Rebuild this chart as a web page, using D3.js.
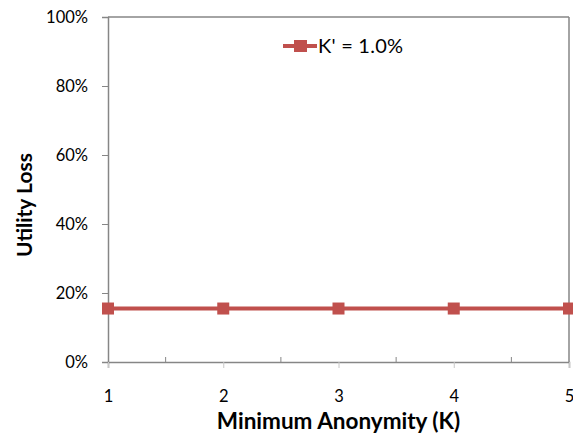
<!DOCTYPE html>
<html>
<head>
<meta charset="utf-8">
<script src="https://cdn.jsdelivr.net/npm/d3@7"></script>
<style>
	body { margin: 0; background: #fff; }
	text { font-family: Lato, "Open Sans", sans-serif; fill: #000; }
</style>
</head>
<body>
<div id="chart"></div>
<script>
// data
const categories = [1, 2, 3, 4, 5]
const utilityLoss = [0.155, 0.155, 0.155, 0.155, 0.155]
const seriesName = "K' = 1.0%"
const yTicks = [0, 0.2, 0.4, 0.6, 0.8, 1.0]

const width = 573, height = 446
const margin = { top: 17, right: 4, bottom: 84, left: 108 }
const w = width - margin.left - margin.right
const h = height - margin.top - margin.bottom
const red = '#C0504D'
const axisGrey = '#868686'

const svg = d3.select('#chart').append('svg')
	.attr('width', width)
	.attr('height', height)

const g = svg.append('g')
	.attr('transform', 'translate(' + margin.left + ',' + margin.top + ')')

const x = d3.scaleLinear().domain([1, 5]).range([0, w])
const y = d3.scaleLinear().domain([0, 1]).range([h, 0])

// plot border (top & right)
g.append('line').attr('x1', 0).attr('x2', w).attr('y1', 0).attr('y2', 0)
	.attr('stroke', axisGrey).attr('stroke-width', 1.5)
g.append('line').attr('x1', w).attr('x2', w).attr('y1', 0).attr('y2', h)
	.attr('stroke', axisGrey).attr('stroke-width', 1.5)

// y axis
const yAxis = g.append('g')
	.call(d3.axisLeft(y).tickValues(yTicks).tickFormat(d3.format('.0%')).tickSize(6).tickPadding(14))
yAxis.select('.domain').attr('stroke', axisGrey).attr('stroke-width', 1.5)
yAxis.selectAll('line').attr('stroke', axisGrey).attr('stroke-width', 1)
yAxis.selectAll('text').attr('font-size', 16.5).attr('font-family', 'Lato')

// x axis
const xAxis = g.append('g')
	.attr('transform', 'translate(0,' + h + ')')
	.call(d3.axisBottom(x).tickValues(categories).tickFormat(d3.format('d')).tickSize(6).tickPadding(22))
xAxis.select('.domain').attr('stroke', axisGrey).attr('stroke-width', 1.5)
xAxis.selectAll('line').attr('stroke', '#c8c8c8').attr('stroke-width', 1)
xAxis.selectAll('text').attr('font-size', 16.5).attr('font-family', 'Lato')

// inner ticks between categories
const mids = categories.slice(0, -1).map(d => d + 0.5)
g.selectAll('.midtick')
	.data(mids)
	.enter().append('line')
	.attr('class', 'midtick')
	.attr('x1', d => x(d)).attr('x2', d => x(d))
	.attr('y1', h).attr('y2', h - 5)
	.attr('stroke', axisGrey)

// series line
const pts = categories.map((c, i) => ({ k: c, v: utilityLoss[i] }))
g.append('path')
	.datum(pts)
	.attr('fill', 'none')
	.attr('stroke', red)
	.attr('stroke-width', 4)
	.attr('d', d3.line().x(d => x(d.k)).y(d => y(d.v)))

g.selectAll('.marker')
	.data(pts)
	.enter().append('rect')
	.attr('class', 'marker')
	.attr('x', d => x(d.k) - 6)
	.attr('y', d => y(d.v) - 6)
	.attr('width', 12)
	.attr('height', 12)
	.attr('fill', red)

// legend
const lg = svg.append('g').attr('transform', 'translate(283,46)')
lg.append('line').attr('x1', 0).attr('x2', 34).attr('y1', 0).attr('y2', 0)
	.attr('stroke', red).attr('stroke-width', 4)
lg.append('rect').attr('x', 11).attr('y', -6).attr('width', 13).attr('height', 12).attr('fill', red)
lg.append('text').attr('x', 35).attr('y', 7)
	.attr('font-size', 20)
	.attr('textLength', 85)
	.text(seriesName)

// axis titles
svg.append('text')
	.attr('x', margin.left + w / 2)
	.attr('y', 429)
	.attr('text-anchor', 'middle')
	.attr('font-size', 22.5)
	.attr('font-weight', 'bold')
	.text('Minimum Anonymity (K)')

svg.append('text')
	.attr('transform', 'translate(32,205) rotate(-90)')
	.attr('text-anchor', 'middle')
	.attr('font-size', 21)
	.attr('font-weight', 'bold')
	.attr('textLength', 104)
	.text('Utility Loss')
</script>
</body>
</html>
